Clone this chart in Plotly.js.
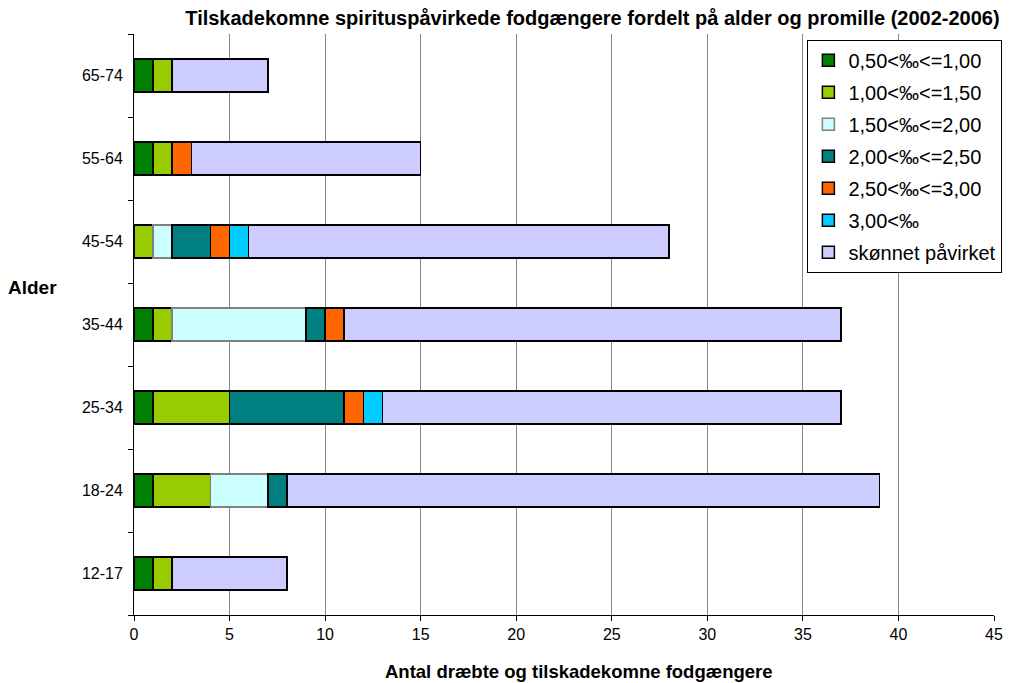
<!DOCTYPE html>
<html><head><meta charset="utf-8">
<script src="https://cdn.plot.ly/plotly-3.0.1.min.js"></script>
<style>body{margin:0;background:#fff}#c{width:1011px;height:683px}</style>
</head><body><div id="c"></div>
<script>
const categories = ["12-17","18-24","25-34","35-44","45-54","55-64","65-74"];
const seriesNames = ["0,50<‰<=1,00","1,00<‰<=1,50","1,50<‰<=2,00","2,00<‰<=2,50","2,50<‰<=3,00","3,00<‰","skønnet påvirket"];
const s1 = [1,1,1,1,0,1,1];
const s2 = [1,3,4,1,1,1,1];
const s3 = [0,3,0,7,1,0,0];
const s4 = [0,1,6,1,2,0,0];
const s5 = [0,0,1,1,1,1,0];
const s6 = [0,0,1,0,1,0,0];
const s7 = [6,31,24,26,22,12,5];
const seriesValues = [s1,s2,s3,s4,s5,s6,s7];
const colors = ["#008000","#99CC00","#CCFFFF","#008080","#FF6600","#00CCFF","#CCCCFF"];
const lineColors = ["#000","#000","#808080","#000","#000","#000","#000"];
const xTicks = [0,5,10,15,20,25,30,35,40,45];

const traces = seriesNames.map((n,i)=>({
  type:"bar", orientation:"h", name:n, y:categories, x:seriesValues[i],
  legendgroup:"g"+i,
  marker:{color:colors[i], line:{color:lineColors[i], width:1.5}},
  hoverinfo:"x+name"
}));

const F = "Liberation Sans, Arial, sans-serif";
const layout = {
  width:1011, height:683,
  margin:{l:134, r:17, t:34, b:68, autoexpand:false},
  paper_bgcolor:"#fff", plot_bgcolor:"#fff",
  barmode:"stack", bargap:0.6,
  font:{family:F, size:16, color:"#000"},
  title:{text:"<b>Tilskadekomne spirituspåvirkede fodgængere fordelt på alder og promille (2002-2006)</b>",
    font:{size:20, family:F}, x:0.586, xanchor:"center", y:0.974, yanchor:"middle"},
  xaxis:{range:[0,45], tickvals:xTicks, ticktext:xTicks.map(String), showgrid:true, gridcolor:"#888", gridwidth:1,
    showline:true, linecolor:"#000", linewidth:1, ticks:"outside", ticklen:5, tickcolor:"#000",
    zeroline:false, tickfont:{size:16}, automargin:false},
  yaxis:{type:"category", categoryorder:"array", categoryarray:categories, showline:true, linecolor:"#000", linewidth:1,
    ticks:"outside", ticklen:5, tickcolor:"#000", tickson:"boundaries", showgrid:false, tickfont:{size:16},
    ticklabelstandoff:7, automargin:false},
  legend:{x:0.783, y:0.99, xanchor:"left", yanchor:"top", bordercolor:"#000", borderwidth:1, bgcolor:"#fff",
    font:{size:20, family:F}, traceorder:"grouped", tracegroupgap:3, itemwidth:30},
  annotations:[
    {text:"<b>Alder</b>", xref:"paper", yref:"paper", x:-0.118, y:0.563, xanchor:"center", yanchor:"middle",
      showarrow:false, font:{size:19, family:F}},
    {text:"<b>Antal dræbte og tilskadekomne fodgængere</b>", xref:"paper", yref:"paper", x:0.517, y:-0.098,
      xanchor:"center", yanchor:"middle", showarrow:false, font:{size:18.5, family:F}}
  ]
};
Plotly.newPlot("c", traces, layout, {displayModeBar:false});
</script></body></html>
